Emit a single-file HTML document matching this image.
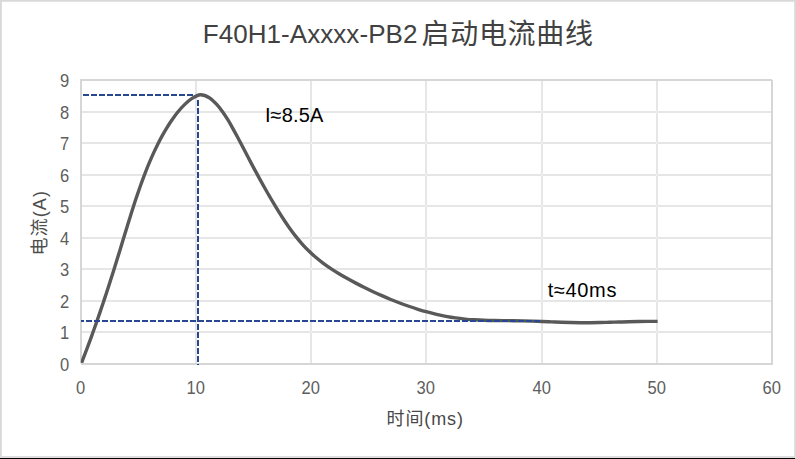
<!DOCTYPE html>
<html lang="zh">
<head>
<meta charset="utf-8">
<title>F40H1-Axxxx-PB2启动电流曲线</title>
<style>
html,body{margin:0;padding:0;background:#ffffff;}
body{width:796px;height:459px;overflow:hidden;font-family:"Liberation Sans",sans-serif;}
svg{display:block;}
</style>
</head>
<body>
<svg width="796" height="459" viewBox="0 0 796 459" role="img" aria-label="F40H1-Axxxx-PB2启动电流曲线">
<rect x="0" y="0" width="796" height="459" fill="#ffffff"/>
<path d="M0 0H796V1.85H0ZM0 0H1.85V459H0ZM794.2 0H796V459H794.2Z" fill="#d9d9d9"/>
<rect x="0" y="456" width="796" height="2" fill="#dedede"/>
<rect x="0" y="458" width="795.1" height="1" fill="#000000"/>
<path d="M82 331H771V333H82ZM82 300H771V302H82ZM82 268H771V270H82ZM82 237H771V239H82ZM82 205H771V207H82ZM82 174H771V176H82ZM82 142H771V144H82ZM82 111H771V113H82ZM195 81H197V363H195ZM310 81H312V363H310ZM425 81H427V363H425ZM541 81H543V363H541ZM656 81H658V363H656Z" fill="#e6e6e6"/>
<path d="M195 331h2v2h-2ZM310 331h2v2h-2ZM425 331h2v2h-2ZM541 331h2v2h-2ZM656 331h2v2h-2ZM195 300h2v2h-2ZM310 300h2v2h-2ZM425 300h2v2h-2ZM541 300h2v2h-2ZM656 300h2v2h-2ZM195 268h2v2h-2ZM310 268h2v2h-2ZM425 268h2v2h-2ZM541 268h2v2h-2ZM656 268h2v2h-2ZM195 237h2v2h-2ZM310 237h2v2h-2ZM425 237h2v2h-2ZM541 237h2v2h-2ZM656 237h2v2h-2ZM195 205h2v2h-2ZM310 205h2v2h-2ZM425 205h2v2h-2ZM541 205h2v2h-2ZM656 205h2v2h-2ZM195 174h2v2h-2ZM310 174h2v2h-2ZM425 174h2v2h-2ZM541 174h2v2h-2ZM656 174h2v2h-2ZM195 142h2v2h-2ZM310 142h2v2h-2ZM425 142h2v2h-2ZM541 142h2v2h-2ZM656 142h2v2h-2ZM195 111h2v2h-2ZM310 111h2v2h-2ZM425 111h2v2h-2ZM541 111h2v2h-2ZM656 111h2v2h-2Z" fill="#ededed"/>
<path d="M80 79H772V81H80ZM771 80H773V365H771ZM81 363H773V365H81ZM80 79H82V363.3H80Z" fill="#d6d6d6"/>
<clipPath id="pc"><rect x="80.8" y="60" width="700" height="303"/></clipPath>
<path d="M81.55 362.88C82.12 361.39 83.86 356.89 85 353.89C86.14 350.89 87.27 347.88 88.39 344.87C89.51 341.86 90.61 338.85 91.71 335.83C92.8 332.81 93.88 329.78 94.96 326.76C96.03 323.73 97.09 320.7 98.14 317.66C99.19 314.63 100.23 311.59 101.26 308.55C102.29 305.51 103.31 302.46 104.32 299.41C105.33 296.37 106.33 293.31 107.33 290.26C108.32 287.21 109.3 284.15 110.28 281.09C111.26 278.03 112.23 274.97 113.2 271.91C114.16 268.84 115.12 265.78 116.07 262.71C117.03 259.65 117.97 256.58 118.92 253.51C119.86 250.44 120.81 247.37 121.75 244.3C122.68 241.23 123.62 238.15 124.56 235.08C125.49 232.01 126.43 228.94 127.37 225.87C128.31 222.8 129.26 219.73 130.22 216.66C131.18 213.6 132.14 210.53 133.12 207.48C134.11 204.42 135.1 201.37 136.12 198.32C137.13 195.27 138.17 192.23 139.23 189.2C140.29 186.17 141.37 183.15 142.48 180.13C143.6 177.12 144.73 174.12 145.91 171.13C147.08 168.14 148.29 165.16 149.54 162.2C150.79 159.25 152.07 156.3 153.4 153.38C154.73 150.46 156.1 147.55 157.53 144.68C158.96 141.8 160.44 138.95 161.99 136.14C163.54 133.33 165.15 130.54 166.83 127.81C168.52 125.07 170.26 122.37 172.1 119.74C173.93 117.11 175.81 114.49 177.84 112.01C179.87 109.53 181.98 107.08 184.29 104.86C186.59 102.63 188.98 100.35 191.67 98.68C194.35 97 197.44 94.97 200.38 94.81C203.33 94.65 206.66 96.17 209.34 97.72C212.02 99.28 214.28 101.85 216.48 104.17C218.68 106.48 220.66 109.05 222.55 111.64C224.43 114.24 226.12 116.98 227.8 119.72C229.48 122.45 231.06 125.25 232.63 128.05C234.2 130.85 235.72 133.68 237.24 136.51C238.75 139.35 240.23 142.2 241.72 145.04C243.21 147.89 244.68 150.74 246.17 153.59C247.66 156.43 249.15 159.28 250.65 162.11C252.16 164.95 253.67 167.79 255.19 170.61C256.71 173.44 258.24 176.26 259.79 179.08C261.34 181.89 262.9 184.7 264.48 187.5C266.05 190.29 267.65 193.08 269.26 195.86C270.87 198.64 272.5 201.41 274.15 204.16C275.8 206.92 277.46 209.66 279.17 212.39C280.87 215.11 282.59 217.82 284.37 220.5C286.14 223.17 287.95 225.83 289.82 228.44C291.69 231.05 293.6 233.63 295.59 236.15C297.58 238.67 299.62 241.15 301.75 243.56C303.88 245.96 306.08 248.31 308.36 250.56C310.65 252.82 313.02 254.99 315.46 257.07C317.9 259.16 320.43 261.15 323 263.07C325.57 264.99 328.21 266.82 330.89 268.6C333.56 270.38 336.29 272.08 339.03 273.74C341.78 275.4 344.57 277 347.38 278.56C350.18 280.13 353.01 281.64 355.86 283.13C358.7 284.62 361.56 286.08 364.44 287.51C367.31 288.94 370.21 290.34 373.11 291.7C376.02 293.06 378.95 294.39 381.89 295.68C384.83 296.97 387.78 298.23 390.76 299.45C393.73 300.66 396.72 301.84 399.72 302.98C402.72 304.11 405.74 305.21 408.78 306.26C411.81 307.3 414.86 308.31 417.93 309.27C421 310.22 424.08 311.13 427.17 311.98C430.27 312.83 433.38 313.63 436.51 314.36C439.64 315.09 442.78 315.76 445.93 316.36C449.09 316.95 452.26 317.49 455.44 317.94C458.62 318.39 461.81 318.76 465 319.07C468.2 319.38 471.4 319.61 474.61 319.81C477.81 320 481.02 320.13 484.23 320.24C487.44 320.36 490.65 320.42 493.87 320.47C497.08 320.53 500.29 320.56 503.5 320.59C506.71 320.63 509.92 320.65 513.13 320.69C516.34 320.74 519.55 320.79 522.77 320.87C525.98 320.95 529.19 321.05 532.4 321.16C535.6 321.27 538.81 321.4 542.02 321.53C545.23 321.65 548.44 321.79 551.65 321.92C554.86 322.04 558.07 322.17 561.28 322.28C564.49 322.39 567.7 322.49 570.91 322.56C574.12 322.63 577.33 322.69 580.54 322.71C583.75 322.73 586.96 322.72 590.17 322.69C593.39 322.67 596.6 322.61 599.81 322.55C603.02 322.48 606.23 322.39 609.44 322.31C612.65 322.22 615.86 322.12 619.07 322.03C622.28 321.94 625.49 321.84 628.7 321.76C631.91 321.67 635.12 321.59 638.33 321.53C641.54 321.47 644.75 321.42 647.97 321.39C651.18 321.37 655.99 321.4 657.6 321.4" stroke="#595959" stroke-width="3.4" fill="none" stroke-linejoin="round" stroke-linecap="butt" clip-path="url(#pc)"/>
<path d="M83 95H195" stroke="#274891" stroke-width="2" stroke-dasharray="6 2" fill="none"/>
<path d="M198 100V365" stroke="#274891" stroke-width="2" stroke-dasharray="6 2" fill="none"/>
<path d="M81 321H541" stroke="#274891" stroke-width="2" stroke-dasharray="6 2" stroke-dashoffset="3" fill="none"/>
<g font-family="'Liberation Sans', sans-serif" font-size="17.8" fill="#5e5e5e"><text transform="translate(69.1 370.9) scale(0.93 1)" text-anchor="end">0</text><text transform="translate(69.1 338.9) scale(0.93 1)" text-anchor="end">1</text><text transform="translate(69.1 307.9) scale(0.93 1)" text-anchor="end">2</text><text transform="translate(69.1 275.9) scale(0.93 1)" text-anchor="end">3</text><text transform="translate(69.1 244.9) scale(0.93 1)" text-anchor="end">4</text><text transform="translate(69.1 212.9) scale(0.93 1)" text-anchor="end">5</text><text transform="translate(69.1 181.9) scale(0.93 1)" text-anchor="end">6</text><text transform="translate(69.1 149.9) scale(0.93 1)" text-anchor="end">7</text><text transform="translate(69.1 118.9) scale(0.93 1)" text-anchor="end">8</text><text transform="translate(69.1 86.9) scale(0.93 1)" text-anchor="end">9</text><text transform="translate(80.7 393.7) scale(0.93 1)" text-anchor="middle">0</text><text transform="translate(195.7 393.7) scale(0.93 1)" text-anchor="middle">10</text><text transform="translate(310.7 393.7) scale(0.93 1)" text-anchor="middle">20</text><text transform="translate(425.7 393.7) scale(0.93 1)" text-anchor="middle">30</text><text transform="translate(541.7 393.7) scale(0.93 1)" text-anchor="middle">40</text><text transform="translate(656.7 393.7) scale(0.93 1)" text-anchor="middle">50</text><text transform="translate(771.7 393.7) scale(0.93 1)" text-anchor="middle">60</text></g>
<g font-family="'Liberation Sans', 'Noto Sans CJK SC', sans-serif">
<text x="202.7" y="42.9" font-size="26" fill="#414141" textLength="214.7" lengthAdjust="spacing">F40H1-Axxxx-PB2</text>
<text x="421.5" y="43.5" font-size="28" fill="#414141" textLength="171.5" lengthAdjust="spacing">启动电流曲线</text>
<text x="386.5" y="424.5" font-size="18" fill="#484848" textLength="76.5" lengthAdjust="spacing">时间(ms)</text>
<text transform="rotate(-90)" x="-255.5" y="45.8" font-size="18" fill="#4d4d4d" textLength="64.5" lengthAdjust="spacing">电流(A)</text>
<text x="264.9" y="121.6" font-size="20" fill="#000" textLength="58.5" lengthAdjust="spacing">I≈8.5A</text>
<text x="547.8" y="297.2" font-size="20" fill="#000" textLength="68.6" lengthAdjust="spacing">t≈40ms</text>
</g>
</svg>
</body>
</html>
